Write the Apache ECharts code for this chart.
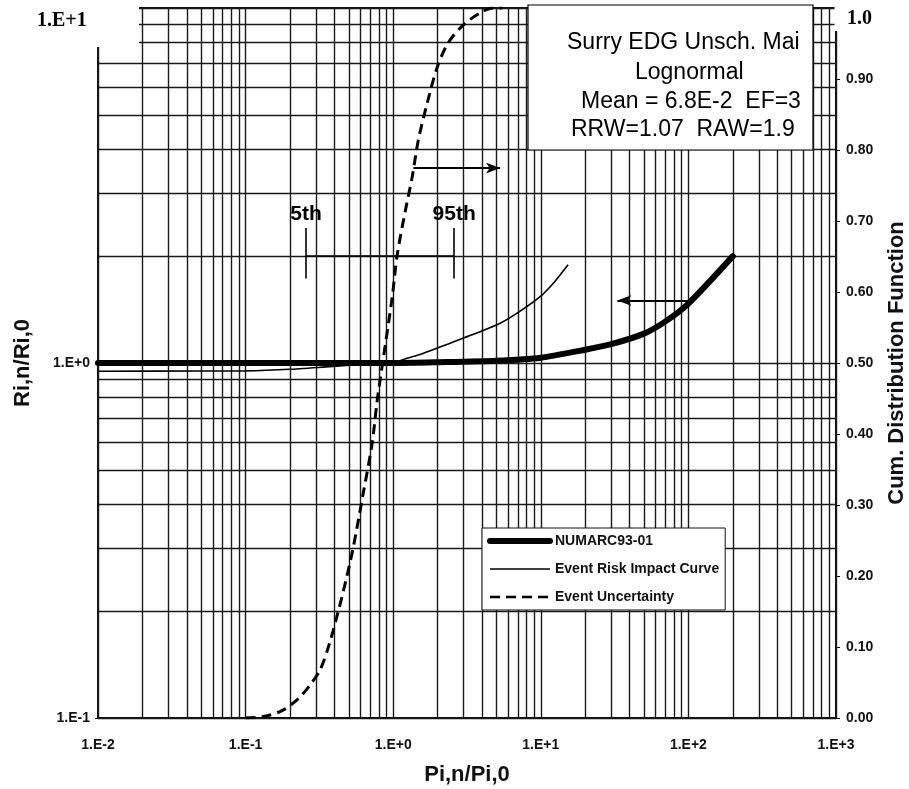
<!DOCTYPE html>
<html>
<head>
<meta charset="utf-8">
<title>Surry EDG Unsch. Maint.</title>
<script src="https://cdn.jsdelivr.net/npm/echarts@6/dist/echarts.min.js"></script>
<style>
  html, body { margin: 0; padding: 0; background: #fff; }
  #main { width: 909px; height: 789px; }
</style>
</head>
<body>
<div id="main"></div>
<script>
// NUMARC93-01 (left axis)
var numarcX = [0.01, 0.1, 1, 2, 5, 10, 20, 30, 50, 70, 100, 200];
var numarcY = [1.0, 1.0, 1.0, 1.005, 1.015, 1.035, 1.09, 1.13, 1.21, 1.31, 1.47, 2.0];
// Event Risk Impact Curve (left axis)
var riskX = [0.01, 0.05, 0.1, 0.2, 0.35, 0.6, 1, 1.24, 1.52, 2.43, 3.6, 5.3, 7.25, 9.9, 12.5, 15.3];
var riskY = [0.948, 0.949, 0.95, 0.96, 0.975, 0.99, 1.0, 1.031, 1.057, 1.137, 1.21, 1.294, 1.40, 1.537, 1.70, 1.89];
// Event Uncertainty, cumulative distribution (right axis)
var uncX = [0.1, 0.132, 0.175, 0.224, 0.27, 0.32, 0.37, 0.424, 0.48, 0.536, 0.626, 0.72, 0.78,
            0.855, 0.985, 1.064, 1.21, 1.345, 1.48, 1.7, 1.99, 2.36, 2.98, 3.88, 4.76, 5.5];
var uncY = [0.0, 0.002, 0.01, 0.026, 0.045, 0.068, 0.105, 0.15, 0.195, 0.24, 0.316, 0.387, 0.448,
            0.505, 0.593, 0.652, 0.715, 0.762, 0.814, 0.866, 0.917, 0.951, 0.976, 0.993, 1.0, 1.0];
// 5th / 95th percentiles of the uncertainty
var pctNames = ['5th', '95th'];
var pctX = [0.257, 2.59];
// tick labels
var xTickLabels = ['1.E-2', '1.E-1', '1.E+0', '1.E+1', '1.E+2', '1.E+3'];
var yTickLabels = ['1.E-1', '1.E+0', '1.E+1'];
var cdfTicks = [0, 0.1, 0.2, 0.3, 0.4, 0.5, 0.6, 0.7, 0.8, 0.9, 1.0];
var boxLines = ['Surry EDG Unsch. Mai', 'Lognormal', 'Mean = 6.8E-2  EF=3', 'RRW=1.07  RAW=1.9'];
var legendNames = ['NUMARC93-01', 'Event Risk Impact Curve', 'Event Uncertainty'];
var legendWidths = [6, 1.6, 2.6];

function zip(a, b) { return a.map(function (v, i) { return [v, b[i]]; }); }
function expOf(v) { return Math.round(Math.log10(v)); }

// log paper grid: 1..9 in each decade
var vLines = [], hLines = [];
for (var e = -2; e <= 2; e++) {
  for (var m = 1; m <= 9; m++) vLines.push({ xAxis: +(m * Math.pow(10, e)).toPrecision(3) });
}
vLines.push({ xAxis: 1000 });
for (var e2 = -1; e2 <= 0; e2++) {
  for (var m2 = 1; m2 <= 9; m2++) hLines.push({ yAxis: +(m2 * Math.pow(10, e2)).toPrecision(3) });
}
hLines.push({ yAxis: 10 });

var ink = '#111';
var fam = '"Liberation Sans", Arial, sans-serif';

var chart = echarts.init(document.getElementById('main'));
var option = {
  animation: false,
  backgroundColor: '#fff',
  grid: { left: 98, right: 73, top: 8, bottom: 71, show: true, borderColor: ink, borderWidth: 2, outerBoundsMode: 'none' },
  legend: {
    data: legendNames.map(function (n, i) { return { name: n, lineStyle: { width: legendWidths[i] } }; }),
    orient: 'vertical',
    left: 482, top: 528,
    padding: [6, 6, 6, 5],
    itemGap: 14, itemWidth: 60, itemHeight: 14,
    itemStyle: { opacity: 0 },
    backgroundColor: '#fff', borderColor: ink, borderWidth: 1,
    textStyle: { color: ink, fontFamily: fam, fontWeight: 'bold', fontSize: 14 },
    z: 20
  },
  xAxis: {
    type: 'log', logBase: 10, min: 0.01, max: 1000,
    name: 'Pi,n/Pi,0', nameLocation: 'middle', nameGap: 46,
    nameTextStyle: { color: ink, fontFamily: fam, fontWeight: 'bold', fontSize: 22 },
    axisLine: { lineStyle: { color: ink, width: 2 } },
    axisTick: { show: false },
    splitLine: { show: false },
    axisLabel: {
      color: ink, fontFamily: fam, fontWeight: 'bold', fontSize: 14, margin: 20,
      formatter: function (v) { return xTickLabels[expOf(v) + 2]; }
    }
  },
  yAxis: [{
    type: 'log', logBase: 10, min: 0.1, max: 10,
    name: 'Ri,n/Ri,0', nameLocation: 'middle', nameGap: 64,
    nameTextStyle: { color: ink, fontFamily: fam, fontWeight: 'bold', fontSize: 22 },
    axisLine: { show: true, lineStyle: { color: ink, width: 2 } },
    axisTick: { show: true, length: 3, lineStyle: { color: ink } },
    splitLine: { show: false },
    axisLabel: {
      color: ink, fontFamily: fam, fontWeight: 'bold', fontSize: 14, margin: 8,
      formatter: function (v) { var k = expOf(v); return k >= 1 ? '' : yTickLabels[k + 1]; }
    }
  }, {
    type: 'value', min: 0, max: 1, interval: 0.1, position: 'right',
    name: 'Cum. Distribution Function', nameLocation: 'middle', nameGap: 50,
    nameTextStyle: { color: ink, fontFamily: fam, fontWeight: 'bold', fontSize: 22 },
    axisLine: { show: true, lineStyle: { color: ink, width: 2 } },
    axisTick: { show: true, length: 4, lineStyle: { color: ink } },
    splitLine: { show: false },
    axisLabel: {
      color: ink, fontFamily: fam, fontWeight: 'bold', fontSize: 14, margin: 10,
      formatter: function (v) {
        var i = Math.round(v * 10);
        return i >= 10 ? '' : cdfTicks[i].toFixed(2);
      }
    }
  }],
  series: [
    {
      name: 'paper', type: 'line', data: [[1, 1]], showSymbol: false, silent: true, z: 1,
      lineStyle: { width: 0 },
      markLine: {
        silent: true, symbol: 'none', z: 1, animation: false,
        label: { show: false },
        lineStyle: { color: '#1a1a1a', width: 1.4, type: 'solid' },
        emphasis: { disabled: true },
        data: vLines.concat(hLines)
      }
    },
    {
      name: 'NUMARC93-01', type: 'line', data: zip(numarcX, numarcY), yAxisIndex: 0,
      symbol: 'none', smooth: 0.25, z: 4,
      lineStyle: { color: '#000', width: 6, cap: 'round' }, itemStyle: { color: '#000' }
    },
    {
      name: 'Event Risk Impact Curve', type: 'line', data: zip(riskX, riskY), yAxisIndex: 0,
      symbol: 'none', smooth: 0.2, z: 4,
      lineStyle: { color: '#000', width: 1.6 }, itemStyle: { color: '#000' }
    },
    {
      name: 'Event Uncertainty', type: 'line', data: zip(uncX, uncY), yAxisIndex: 1,
      symbol: 'none', smooth: 0.3, z: 4,
      lineStyle: { color: '#000', width: 3, type: [10, 6] }, itemStyle: { color: '#000' }
    },
    {
      name: 'arrows', type: 'line', data: [], yAxisIndex: 0, z: 5, silent: true,
      markLine: {
        silent: true, symbol: ['none', 'arrow'], symbolSize: [8, 14], z: 5,
        label: { show: false },
        lineStyle: { color: '#000', width: 2, type: 'solid' },
        data: [
          [{ coord: [1.37, 3.54] }, { coord: [5.3, 3.54] }],
          [{ coord: [100, 1.5] }, { coord: [33, 1.5] }]
        ]
      }
    },
    {
      name: 'percentiles', type: 'line', data: [], yAxisIndex: 0, z: 5, silent: true,
      markLine: {
        silent: true, symbol: 'none', z: 5,
        label: { show: false },
        lineStyle: { color: '#000', width: 1.6, type: 'solid' },
        data: [
          [{ coord: [pctX[0], 2] }, { coord: [pctX[1], 2] }],
          [{ coord: [pctX[0], 1.73] }, { coord: [pctX[0], 2.4] }],
          [{ coord: [pctX[1], 1.73] }, { coord: [pctX[1], 2.4] }]
        ]
      }
    },
    {
      name: 'pctLabels', type: 'scatter', yAxisIndex: 0, symbolSize: 0, silent: true, z: 6,
      itemStyle: { opacity: 1, color: '#000' },
      data: pctNames.map(function (n, i) { return [pctX[i], 2.62, n]; }),
      label: {
        show: true, position: 'inside', color: '#000', opacity: 1,
        fontFamily: fam, fontWeight: 'bold', fontSize: 21,
        formatter: function (p) { return p.value[2]; }
      }
    }
  ],
  graphic: [
    // scanned page: missing corner of the paper at top left and right
    { type: 'rect', z: 50, shape: { x: 0, y: 0, width: 139, height: 47 }, style: { fill: '#fff' } },
    { type: 'rect', z: 50, shape: { x: 834.5, y: 0, width: 6, height: 31 }, style: { fill: '#fff' } },
    { type: 'text', z: 60, left: 37, top: 11, style: { text: yTickLabels[2], font: 'bold 20px "Liberation Serif", "Times New Roman", serif', fill: '#000' } },
    { type: 'text', z: 60, left: 847, top: 9, style: { text: '1.0', font: 'bold 20px "Liberation Serif", "Times New Roman", serif', fill: '#000' } },
    // info box
    { type: 'rect', z: 70, shape: { x: 528, y: 5, width: 285, height: 145 }, style: { fill: '#fff', stroke: '#000', lineWidth: 1.2 } },
    { type: 'text', z: 71, x: 567, y: 43, style: { text: boxLines[0], width: 242, overflow: 'truncate', ellipsis: '', font: '23px ' + fam, fill: '#000', verticalAlign: 'middle' } },
    { type: 'text', z: 71, x: 635, y: 73, style: { text: boxLines[1], width: 172, overflow: 'truncate', ellipsis: '', font: '23px ' + fam, fill: '#000', verticalAlign: 'middle' } },
    { type: 'text', z: 71, x: 581, y: 102, style: { text: boxLines[2], width: 228, overflow: 'truncate', ellipsis: '', font: '23px ' + fam, fill: '#000', verticalAlign: 'middle' } },
    { type: 'text', z: 71, x: 571, y: 130, style: { text: boxLines[3], width: 238, overflow: 'truncate', ellipsis: '', font: '23px ' + fam, fill: '#000', verticalAlign: 'middle' } }
  ]
};
chart.setOption(option);
</script>
</body>
</html>
